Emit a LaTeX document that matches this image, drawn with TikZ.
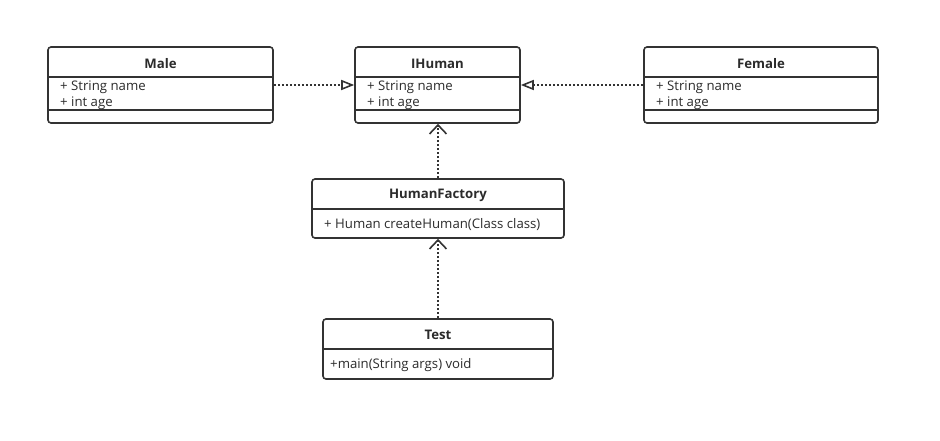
\documentclass[tikz,border=0pt]{standalone}
\usepackage{fontspec}
\setmainfont{Open Sans}
\usepackage{tikz}
\usetikzlibrary{arrows.meta, positioning, calc}
\definecolor{lineGray}{HTML}{333333}
\definecolor{textGray}{HTML}{2B2B2B}
\tikzset{
    classbox/.style={draw=lineGray, line width=1.6pt, rounded corners=3pt, inner sep=0pt},
    sepline/.style={draw=lineGray, line width=1.6pt},
    titletext/.style={font=\fontsize{13.2}{15}\selectfont\bfseries, text=textGray},
    attrtext/.style={font=\fontsize{13.2}{15}\selectfont, text=textGray, anchor=west, inner sep=0pt},
    realize/.style={draw=lineGray, line width=1.6pt, dash pattern=on 2pt off 2pt,
        -{Triangle[open, length=13pt, width=10pt, line width=1.6pt]}},
    depend/.style={draw=lineGray, line width=1.6pt, dash pattern=on 2pt off 2pt,
        -{Straight Barb[length=9pt, width=17pt, line width=1.6pt]}}
}
\begin{document}
\begin{tikzpicture}[x=1pt, y=-1pt]
    \useasboundingbox (0,0) rectangle (940,441);

    % --- CLASS BOXES ---
    \node[classbox, minimum width=225pt, minimum height=76pt] (male) at (160.5,85) {};
    \node[classbox, minimum width=165pt, minimum height=76pt] (ihuman) at (437.5,85) {};
    \node[classbox, minimum width=234pt, minimum height=76pt] (female) at (761,85) {};
    \node[classbox, minimum width=252pt, minimum height=59pt] (factory) at (438,208.5) {};
    \node[classbox, minimum width=230pt, minimum height=60pt] (test) at (438,349) {};

    % Separators (title / attributes / methods)
    \foreach \cls in {male, ihuman, female} {
        \draw[sepline] (\cls.west |- 0,77) -- (\cls.east |- 0,77);
        \draw[sepline] (\cls.west |- 0,110) -- (\cls.east |- 0,110);
    }
    \draw[sepline] (factory.west |- 0,209) -- (factory.east |- 0,209);
    \draw[sepline] (test.west |- 0,349) -- (test.east |- 0,349);

    % --- TITLES ---
    \node[titletext] (maleTitle) at (160.5,64) {Male};
    \node[titletext] (ihumanTitle) at (437.5,64) {IHuman};
    \node[titletext] (femaleTitle) at (761,64) {Female};
    \node[titletext] (factoryTitle) at (438,195) {HumanFactory};
    \node[titletext] (testTitle) at (438,335) {Test};

    % --- ATTRIBUTES ---
    \foreach \ax/\nm in {60/male, 367/ihuman, 656/female} {
        \node[attrtext] (\nm Name) at (\ax,87) {+ String name};
        \node[attrtext] (\nm Age) at (\ax,103) {+ int age};
    }
    \node[attrtext] (factoryOp) at (324,225) {+ Human createHuman(Class class)};
    \node[attrtext] (testOp) at (330,365) {+main(String args) void};

    % --- RELATIONS ---
    \draw[realize] (male.east) -- (ihuman.west);
    \draw[realize] (female.west) -- (ihuman.east);
    \draw[depend] (factory.north) -- (factory.north |- ihuman.south);
    \draw[depend] (test.north) -- (factory.south);
\end{tikzpicture}
\end{document}
